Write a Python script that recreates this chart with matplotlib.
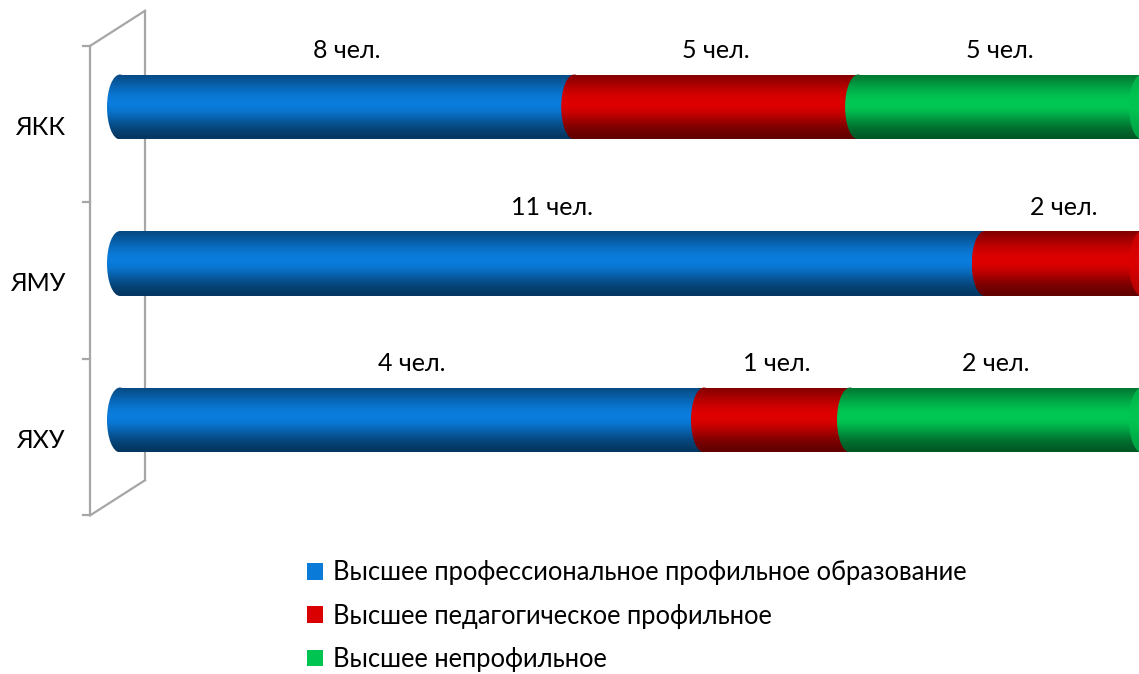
import numpy as np
import matplotlib.pyplot as plt
from matplotlib.patches import Rectangle, Ellipse, Patch
from matplotlib.colors import to_rgb

plt.rcParams["font.family"] = ["Lato", "DejaVu Sans"]

# данные
categories = ["ЯКК", "ЯМУ", "ЯХУ"]
series = ["Высшее профессиональное профильное образование",
          "Высшее педагогическое профильное",
          "Высшее непрофильное"]
prof = [8, 11, 4]
ped = [5, 2, 1]
neprof = [5, 0, 2]
colors = ["#0a7ad8", "#da0000", "#00c452"]

W = 1022.0     # пикселей на всю длину полосы
fig = plt.figure(figsize=(11.39, 6.74), dpi=100)
ax = fig.add_axes([0, 0, 1, 1])
ax.set_xlim(-120 / W, (1139 - 120) / W)
ax.set_ylim((674 - 107) / 156.5, -107 / 156.5)
ax.axis("off")

h = 0.415      # высота цилиндра
ew = 26 / W    # ширина эллипса торца
t = np.linspace(0, 1, 200)
sig = np.where(t < 0.45, 0.42, 0.34)
g = np.exp(-((t - 0.45) / sig) ** 2)


def gradient(c):
    c = np.array(to_rgb(c))
    k = 0.40 + 0.62 * g
    return np.clip(c[None, :] * k[:, None], 0, 1)[:, None, :]


def shaded(patch, c, z):
    ax.add_patch(patch)
    bb = patch.get_path().transformed(patch.get_patch_transform()).get_extents()
    im = ax.imshow(gradient(c), extent=(bb.x0, bb.x1, bb.y1, bb.y0),
                   aspect="auto", interpolation="bicubic", zorder=z, origin="upper")
    im.set_clip_path(patch)


z = 2
data = np.array([prof, ped, neprof], dtype=float)
for i, cat in enumerate(categories):
    vals = data[:, i]
    tot = vals.sum()
    left = 0.0
    last = None
    for j, v in enumerate(vals):
        if v == 0:
            continue
        w = v / tot
        rect = Rectangle((left, i - h / 2), w, h, facecolor="none", edgecolor="none")
        ell = Ellipse((left, i), ew, h, facecolor="none", edgecolor="none")
        shaded(rect, colors[j], z)
        shaded(ell, colors[j], z + 0.5)
        z += 1
        ax.text(left + w / 2, i - 0.36, f"{int(v)} чел.", ha="center", va="center",
                fontsize=18, zorder=20)
        left += w
        last = j
    # торец справа
    cap = Ellipse((left, i), ew, h, facecolor=colors[last], edgecolor="none",
                  alpha=0.7, zorder=z)
    ax.add_patch(cap)
    z += 1

# подписи категорий
for i, cat in enumerate(categories):
    ax.text(-55 / W, i + 0.13, cat, ha="right", va="center", fontsize=18)

# рамка (стенка) в псевдо-3D
xf, xb = -30 / W, 25 / W
yf0, yf1 = -0.5 + 0.11, len(categories) - 0.5 + 0.11
yb0, yb1 = -0.5 - 0.115, len(categories) - 0.5 - 0.115
lc = "#a6a6a6"
ax.plot([xf, xf], [yf0, yf1], color=lc, lw=1.6, zorder=1)
ax.plot([xb, xb], [yb0, yb1], color=lc, lw=1.6, zorder=1)
ax.plot([xf, xb], [yf0, yb0], color=lc, lw=1.6, zorder=1)
ax.plot([xf, xb], [yf1, yb1], color=lc, lw=1.6, zorder=1)
for k in range(len(categories) + 1):
    yk = k - 0.5 + 0.11
    ax.plot([xf - 7 / W, xf], [yk, yk], color=lc, lw=1.6, zorder=1)

handles = [Patch(facecolor=c, edgecolor="none") for c in colors]
fig.legend(handles, series, loc="upper left", bbox_to_anchor=(297 / 1139, 1 - 550 / 674),
           frameon=False, fontsize=18.4, handlelength=0.62, handleheight=0.62,
           handletextpad=0.38, labelspacing=0.72, borderaxespad=0)

fig.savefig("out.png", dpi=100)
